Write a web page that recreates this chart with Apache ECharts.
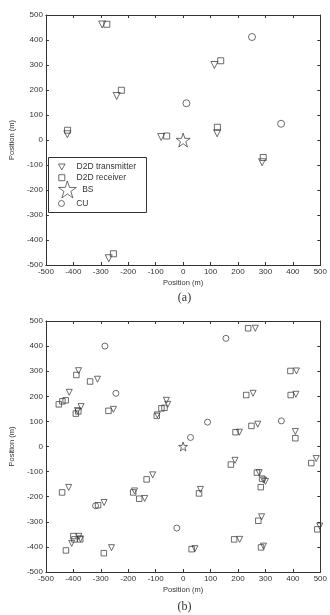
<!DOCTYPE html>
<html>
<head>
<meta charset="utf-8">
<script src="https://cdn.jsdelivr.net/npm/echarts@6/dist/echarts.min.js"></script>
<style>
  html, body { margin: 0; padding: 0; background: #fff; }
  #main { width: 330px; height: 615px; }
</style>
</head>
<body>
<div id="main"></div>
<script>
  // axis range / ticks (m)
  var axisMin = -500
  var axisMax = 500
  var tickStep = 100

  // (a)
  var txA = [[-295, 462], [-242, 176], [-422, 23], [-80, 12], [114, 300], [124, 27], [288, -89], [-271, -473]]
  var rxA = [[-278, 463], [-225, 199], [-421, 39], [-60, 16], [137, 317], [125, 51], [292, -70], [-254, -455]]
  var bsA = [[0, 0]]
  var cuA = [[12, 147], [251, 412], [357, 65]]

  // (b)
  var txB = [[-381, 302], [-312, 268], [-415, 216], [-385, 143], [-372, 159], [-254, 148], [-61, 184], [-56, 168],
    [-94, 126], [263, 471], [413, 301], [255, 212], [411, 208], [272, 89], [205, 57], [409, 60], [-111, -113],
    [-417, -163], [-177, -177], [-140, -207], [-288, -223], [-374, -368], [-380, -358], [-406, -386], [-261, -403],
    [189, -55], [485, -48], [277, -104], [293, -134], [300, -139], [63, -171], [286, -280], [498, -317],
    [206, -370], [293, -397], [43, -407]]
  var rxB = [[-389, 285], [-339, 259], [-428, 184], [-440, 180], [-453, 168], [-391, 131], [-382, 140], [-272, 142],
    [-79, 152], [-68, 154], [-96, 122], [237, 471], [391, 301], [230, 205], [392, 205], [249, 82], [191, 57],
    [409, 33], [-133, -131], [-441, -183], [-182, -183], [-160, -208], [-310, -234], [-400, -357], [-396, -370],
    [-375, -370], [-427, -414], [-289, -425], [174, -72], [467, -66], [269, -104], [288, -128], [283, -162],
    [58, -187], [274, -296], [489, -330], [186, -370], [284, -402], [31, -409]]
  var bsB = [[0, 0]]
  var cuB = [[-285, 400], [-245, 212], [156, 431], [89, 97], [27, 36], [358, 102], [-319, -236], [-23, -325]]

  var INK = '#333'
  var FONT = 'Liberation Sans'
  var TRI = 'path://M0,0L10,0L5,9Z'
  var SQR = 'path://M0,0H10V10H0Z'
  var STAR = 'path://M50,0L61.23,34.55L97.55,34.55L68.17,55.9L79.39,90.45L50,69.1L20.61,90.45L31.83,55.9L2.45,34.55L38.77,34.55Z'

  var hollow = { color: 'rgba(0,0,0,0)', borderColor: INK, borderWidth: 0.9 }

  function _axis (type, gridIndex, pos, main) {
    var ax = {
      type: 'value',
      gridIndex: gridIndex,
      position: pos,
      min: axisMin,
      max: axisMax,
      interval: tickStep,
      axisLine: { show: true, onZero: false, lineStyle: { color: INK, width: 1 } },
      axisTick: { show: true, inside: true, length: 3, lineStyle: { color: INK } },
      splitLine: { show: false },
      axisLabel: { show: main, margin: 3, color: INK, fontSize: 8, fontFamily: FONT, showMinLabel: true, showMaxLabel: true }
    }
    if (main) {
      ax.name = 'Position (m)'
      ax.nameLocation = 'middle'
      ax.nameGap = type === 'x' ? 14 : 27
      ax.nameTextStyle = { color: INK, fontSize: 7.5, fontFamily: FONT }
    }
    return ax
  }

  function _scatter (name, data, symbol, size, g) {
    return {
      name: name,
      type: 'scatter',
      xAxisIndex: g * 2,
      yAxisIndex: g * 2,
      symbol: symbol,
      symbolSize: size,
      itemStyle: hollow,
      data: data,
      silent: true
    }
  }

  function _legend (names, icons, top, h, gap) {
    return {
      orient: 'vertical',
      left: 58,
      top: top,
      padding: 0,
      itemWidth: 19.5,
      itemHeight: h,
      itemGap: gap,
      z: 10,
      symbolKeepAspect: true,
      itemStyle: { color: 'rgba(0,0,0,0)', borderColor: INK, borderWidth: 0.9 },
      textStyle: { color: INK, fontSize: 8.5, fontFamily: FONT, lineHeight: 9 },
      data: names.map(function (n, i) { return { name: n, icon: icons[i] } })
    }
  }

  var options = {
    animation: false,
    backgroundColor: '#fff',
    title: [
      { text: '(a)', left: 179.5, textAlign: 'center', top: 287, textStyle: { color: INK, fontSize: 12, fontWeight: 'normal', fontFamily: 'Liberation Serif' } },
      { text: '(b)', left: 179.5, textAlign: 'center', top: 596, textStyle: { color: INK, fontSize: 12, fontWeight: 'normal', fontFamily: 'Liberation Serif' } }
    ],
    grid: [
      { left: 36, top: 15, width: 287, height: 250 },
      { left: 36, top: 321, width: 287, height: 251 }
    ],
    xAxis: [_axis('x', 0, 'bottom', true), _axis('x', 0, 'top', false), _axis('x', 1, 'bottom', true), _axis('x', 1, 'top', false)],
    yAxis: [_axis('y', 0, 'left', true), _axis('y', 0, 'right', false), _axis('y', 1, 'left', true), _axis('y', 1, 'right', false)],
    legend: [
      _legend(['D2D transmitter', 'D2D receiver'], [TRI, SQR], 162.5, 6, 1.7),
      _legend(['BS'], [STAR], 180.5, 17, 0),
      _legend(['CU'], ['circle'], 199, 6, 0)
    ],
    graphic: [{
      type: 'rect',
      left: 48,
      top: 157,
      z: 5,
      shape: { width: 98, height: 55 },
      style: { fill: '#fff', stroke: INK, lineWidth: 1 }
    }],
    series: [
      _scatter('D2D transmitter', txA, TRI, 7, 0),
      _scatter('D2D receiver', rxA, SQR, 6, 0),
      _scatter('BS', bsA, STAR, 14, 0),
      _scatter('CU', cuA, 'circle', 7, 0),
      _scatter('D2D transmitter', txB, TRI, 6, 1),
      _scatter('D2D receiver', rxB, SQR, 5.5, 1),
      _scatter('BS', bsB, STAR, 9, 1),
      _scatter('CU', cuB, 'circle', 6, 1)
    ]
  }

  var chart = echarts.init(document.getElementById('main'))
  chart.setOption(options)
</script>
</body>
</html>
